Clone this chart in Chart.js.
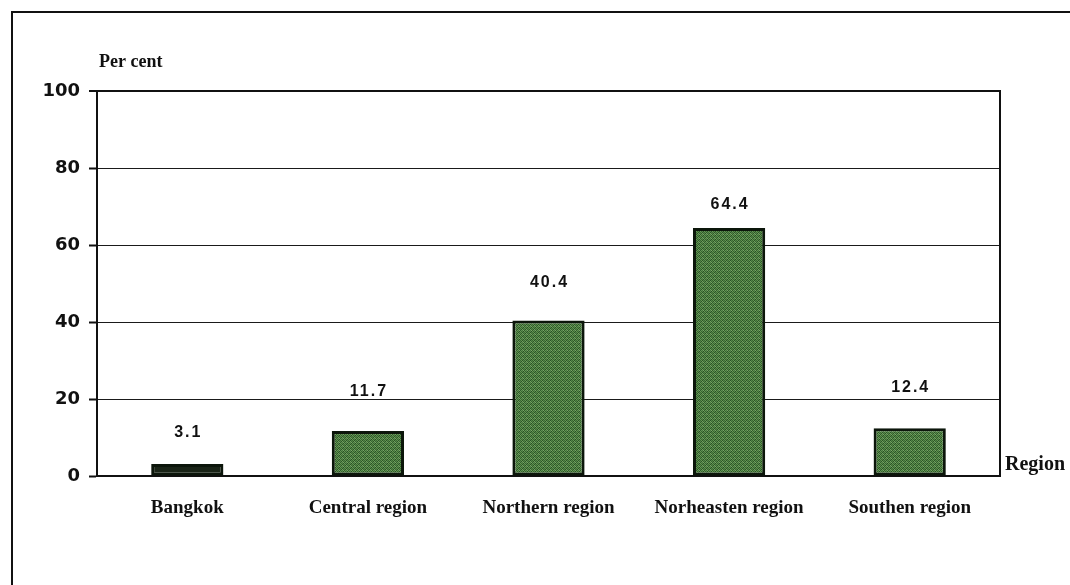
<!DOCTYPE html>
<html>
<head>
<meta charset="utf-8">
<script src="https://cdn.jsdelivr.net/npm/chart.js@4/dist/chart.umd.min.js"></script>
<style>
  html, body { margin: 0; padding: 0; background: #fff; }
  #wrap { position: relative; width: 1070px; height: 585px; }
</style>
</head>
<body>
<div id="wrap"><canvas id="c" width="1070" height="585"></canvas></div>
<script>
const categories = ["Bangkok", "Central region", "Northern region", "Norheasten region", "Southen region"];
const values = [3.1, 11.7, 40.4, 64.4, 12.4];
const valueLabels = ["3.1", "11.7", "40.4", "64.4", "12.4"];
const yTicks = [0, 20, 40, 60, 80, 100];
const yAxisTitle = "Per cent";
const xAxisTitle = "Region";

function makePattern(g0) {
  const p = document.createElement('canvas');
  p.width = 4; p.height = 4;
  const g = p.getContext('2d');
  const cols = [
    ['#3a6a33','#64954f','#2a5427','#568849'],
    ['#548548','#2a5427','#74a060','#386632'],
    ['#305c2b','#649454','#44763e','#7aa464'],
    ['#689856','#36642f','#58894c','#285025']
  ];
  for (let y = 0; y < 4; y++) for (let x = 0; x < 4; x++) {
    g.fillStyle = cols[y][x]; g.fillRect(x, y, 1, 1);
  }
  return g0.createPattern(p, 'repeat');
}
const ctx0 = document.getElementById('c').getContext('2d');
const green = makePattern(ctx0);
const barColors = ['#1a2417', green, green, green, green];

const framePlugin = {
  id: 'frame',
  beforeDraw(chart) {
    const c = chart.ctx;
    c.save();
    c.fillStyle = '#fff';
    c.fillRect(0, 0, chart.width, chart.height);
    c.strokeStyle = '#111';
    c.lineWidth = 2;
    c.beginPath();
    c.moveTo(12, 585); c.lineTo(12, 12); c.lineTo(1070, 12);
    c.stroke();
    c.restore();
  },
  afterDatasetsDraw(chart, args, opts) {
    const c = chart.ctx;
    const a = chart.chartArea;
    const meta = chart.getDatasetMeta(0);
    c.save();
    c.strokeStyle = '#111';
    c.lineWidth = 2;
    c.beginPath();
    c.moveTo(a.left, a.top); c.lineTo(a.right, a.top); c.lineTo(a.right, a.bottom);
    c.stroke();
    c.fillStyle = '#111';
    c.font = 'bold 16px "Liberation Sans", Arial, sans-serif';
    c.textAlign = 'center';
    c.textBaseline = 'middle';
    try { c.letterSpacing = '2px'; } catch (e) {}
    meta.data.forEach((bar, i) => {
      c.fillText(valueLabels[i], bar.x + 1, bar.y - opts.offsets[i]);
    });
    try { c.letterSpacing = '0px'; } catch (e) {}
    c.font = 'bold 18px "Liberation Serif", "Times New Roman", serif';
    c.textAlign = 'left';
    c.fillText(yAxisTitle, 99, 62);
    c.font = 'bold 20px "Liberation Serif", "Times New Roman", serif';
    c.fillText(xAxisTitle, 1005, 465);
    c.restore();
  }
};

new Chart(ctx0, {
  type: 'bar',
  data: {
    labels: categories,
    datasets: [{
      data: values,
      backgroundColor: barColors,
      borderColor: '#0c160b',
      borderWidth: 3,
      borderSkipped: false,
      categoryPercentage: 1.0,
      barPercentage: 0.4
    }]
  },
  options: {
    responsive: false,
    animation: false,
    events: [],
    layout: { padding: { left: 0, top: 91, right: 70, bottom: 0 } },
    plugins: {
      legend: { display: false },
      tooltip: { enabled: false },
      frame: { offsets: [31, 39, 38, 23, 41] }
    },
    scales: {
      x: {
        grid: { display: false, drawTicks: false },
        border: { display: true, color: '#111', width: 2 },
        ticks: {
          padding: 21,
          color: '#111',
          font: { family: '"Liberation Serif", "Times New Roman", serif', size: 19, weight: 'bold' }
        },
        afterFit(s) { s.height = 109; }
      },
      y: {
        min: 0, max: 100,
        afterBuildTicks(s) { s.ticks = yTicks.map(v => ({ value: v })); },
        grid: {
          color: '#1a1a1a',
          lineWidth: (c) => (c.tick && c.tick.value === 100 ? 2 : 1),
          drawTicks: true,
          tickLength: 8,
          tickColor: '#111',
          tickWidth: 2
        },
        border: { display: true, color: '#111', width: 2 },
        ticks: {
          padding: 9,
          color: '#111',
          font: { family: '"DejaVu Sans", sans-serif', size: 18, weight: 'bold' }
        },
        afterFit(s) { s.width = 97; }
      }
    }
  },
  plugins: [framePlugin]
});
</script>
</body>
</html>
